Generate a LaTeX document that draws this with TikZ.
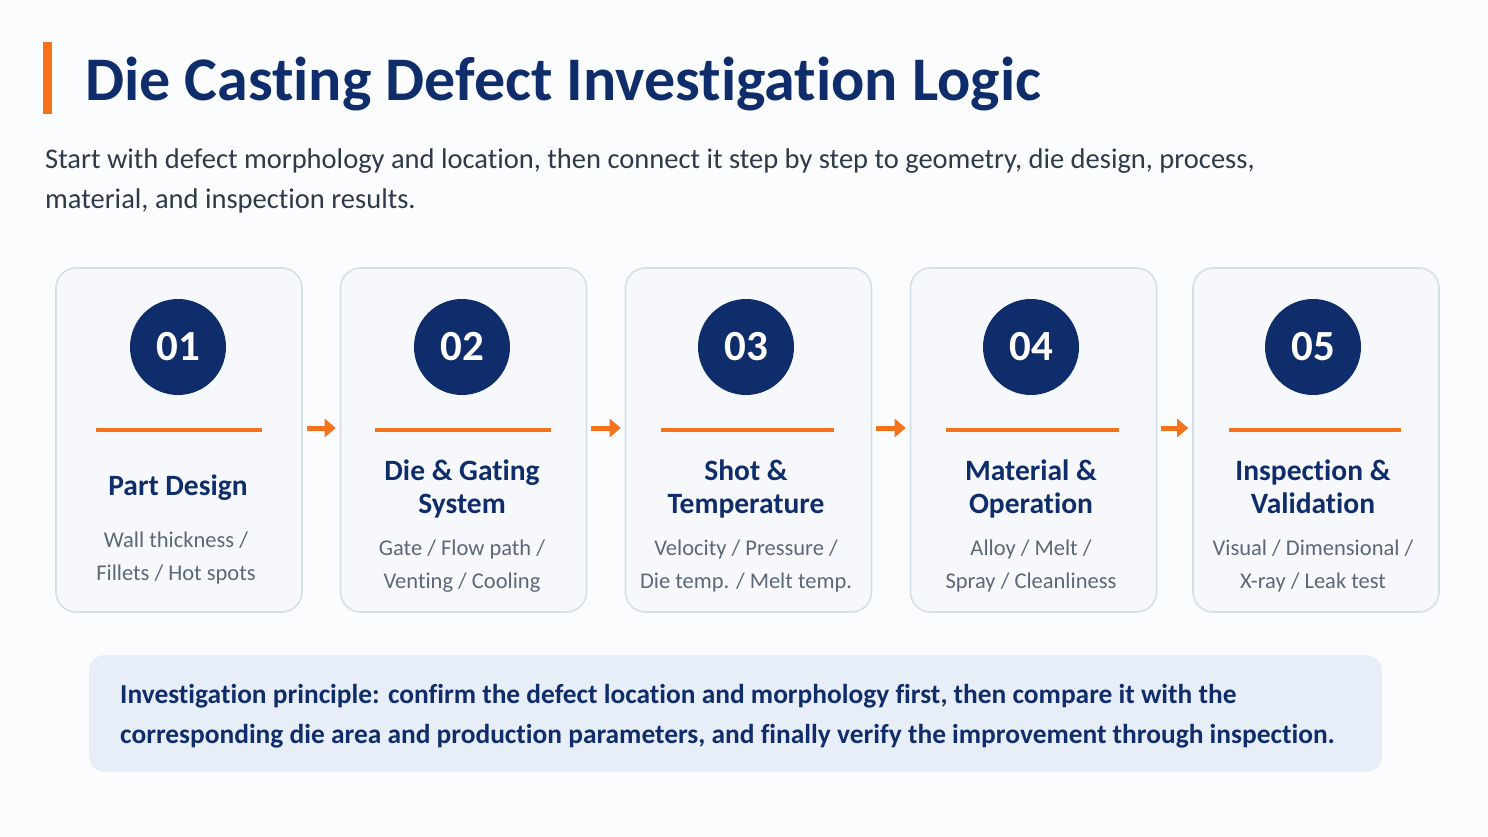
\documentclass[tikz,border=0pt]{standalone}
\usepackage{fontspec}
\setmainfont{Carlito}[Ligatures=NoCommon]
\usepackage{tikz}
\usetikzlibrary{arrows.meta,calc}
\definecolor{navy}{HTML}{0F2D6B}
\definecolor{accent}{HTML}{F4721A}
\definecolor{subgray}{HTML}{5C6778}
\definecolor{leadgray}{HTML}{2E3949}
\definecolor{cardfill}{HTML}{F6F8FB}
\definecolor{cardline}{HTML}{D6DEEA}
\definecolor{notefill}{HTML}{E8EEF7}
\tikzset{card/.style={draw=cardline,line width=1.6pt,fill=cardfill,rounded corners=20pt,
  minimum width=246pt,minimum height=344pt},
 numdot/.style={circle,fill=navy,minimum size=96pt,text=white,font=\fontsize{43}{43}\selectfont\bfseries},
 rule/.style={accent,line width=4pt},
 flow/.style={-{Triangle[length=11pt,width=18pt]},accent,line width=5pt,shorten <=4pt,shorten >=4pt},
 cardtitle/.style={text=navy,font=\fontsize{29.5}{33}\selectfont\bfseries,align=center},
 cardsub/.style={text=subgray,font=\fontsize{22.5}{33}\selectfont,align=center}}

\begin{document}
\begin{tikzpicture}[x=1pt,y=-1pt]
\fill[white!60!cardfill] (0,0) rectangle (1488,837);
\useasboundingbox (0,0) rectangle (1488,837);
\fill[accent] (43,42) rectangle (52,114);
\node[anchor=base west,text=navy,inner sep=0pt,font=\fontsize{62}{62}\selectfont\bfseries] (title) at (85,101) {Die Casting Defect Investigation Logic};
\node[anchor=north west,text=leadgray,inner sep=0pt,align=left,font=\fontsize{28.5}{40}\selectfont] (lead) at (45,149)
 {Start with defect morphology and location, then connect it step by step to geometry, die design, process,\\ material, and inspection results.};
\node[card] (c1) at (179,440) {};
\node[card] (c2) at (463.5,440) {};
\node[card] (c3) at (748.5,440) {};
\node[card] (c4) at (1033.5,440) {};
\node[card] (c5) at (1316,440) {};
\node[numdot] (n1) at (178,347) {01};
\node[numdot] (n2) at (462,347) {02};
\node[numdot] (n3) at (746,347) {03};
\node[numdot] (n4) at (1031,347) {04};
\node[numdot] (n5) at (1313,347) {05};
\draw[rule] (96,430) -- (262,430);
\draw[rule] (375,430) -- (551,430);
\draw[rule] (661,430) -- (834,430);
\draw[rule] (946,430) -- (1119,430);
\draw[rule] (1229,430) -- (1401,430);
\node[cardtitle] (t1) at (178,488) {Part Design};
\node[cardtitle] (t2) at (462,489) {Die \& Gating\\System};
\node[cardtitle] (t3) at (746,489) {Shot \&\\Temperature};
\node[cardtitle] (t4) at (1031,489) {Material \&\\Operation};
\node[cardtitle] (t5) at (1313,487) {Inspection \&\\Validation};
\node[cardsub] (s1) at (176,558) {Wall thickness /\\Fillets / Hot spots};
\node[cardsub] (s2) at (462,566) {Gate / Flow path /\\Venting / Cooling};
\node[cardsub] (s3) at (746,566) {Velocity / Pressure /\\Die temp. / Melt temp.};
\node[cardsub] (s4) at (1031,566) {Alloy / Melt /\\Spray / Cleanliness};
\node[cardsub] (s5) at (1313,566) {Visual / Dimensional /\\X-ray / Leak test};
\draw[flow] (c1.east |- 0,428) -- (c2.west |- 0,428);
\draw[flow] (c2.east |- 0,428) -- (c3.west |- 0,428);
\draw[flow] (c3.east |- 0,428) -- (c4.west |- 0,428);
\draw[flow] (c4.east |- 0,428) -- (c5.west |- 0,428);
\node[fill=notefill,rounded corners=16pt,minimum width=1293pt,minimum height=117pt] (note) at (735.5,713.5) {};
\node[anchor=west,text=navy,align=left,inner sep=0pt,font=\fontsize{27.4}{40}\selectfont\bfseries] (notetext) at (120,716)
 {Investigation principle: confirm the defect location and morphology first, then compare it with the\\corresponding die area and production parameters, and finally verify the improvement through inspection.};
\end{tikzpicture}
\end{document}
